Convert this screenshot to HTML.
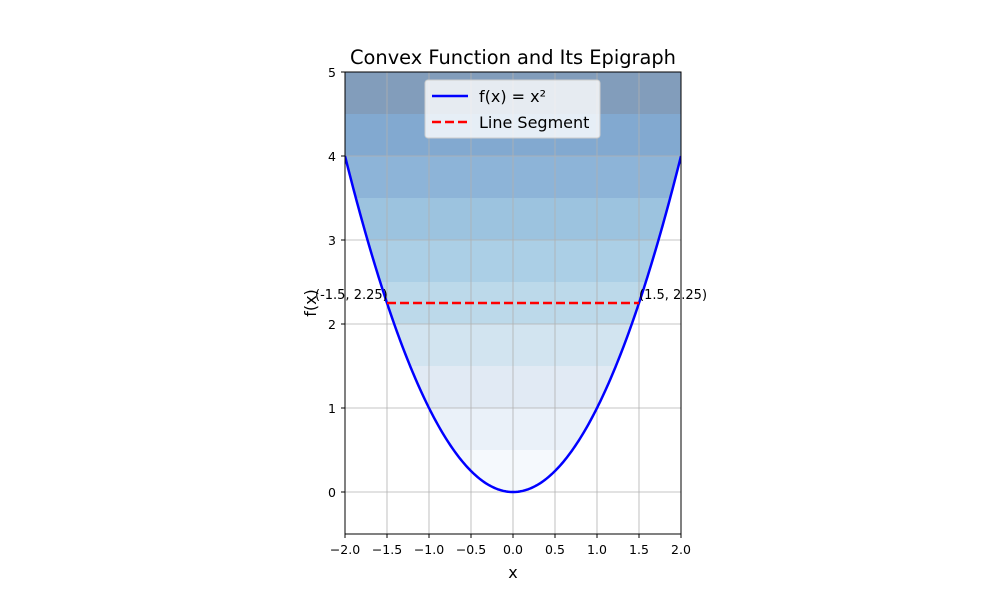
<!DOCTYPE html>
<html><head><meta charset="utf-8"><style>
body{margin:0;background:#fff;}
svg{font-family:"DejaVu Sans","Liberation Sans",sans-serif;}
</style></head><body>
<svg width="1000" height="600" viewBox="0 0 1000 600">
<defs><clipPath id="epi"><path id="epiPath"/></clipPath><clipPath id="plot"><rect x="345" y="72" width="336" height="462"/></clipPath></defs>
<g id="bands" clip-path="url(#epi)"></g>
<g id="grid"></g>
<g id="marks" clip-path="url(#plot)"></g>
<rect x="345" y="72" width="336" height="462" fill="none" stroke="#000" stroke-width="1"/>
<g id="ticks" font-size="12.5" fill="#000"></g>
<text x="513" y="64" text-anchor="middle" font-size="19.4">Convex Function and Its Epigraph</text>
<text x="513" y="578" text-anchor="middle" font-size="16">x</text>
<text transform="translate(316,303) rotate(-90)" text-anchor="middle" font-size="16">f(x)</text>
<g>
<rect x="425" y="80" width="175" height="58" rx="3" fill="#fff" fill-opacity="0.8" stroke="#ccc"/>
<line x1="432" y1="96" x2="468" y2="96" stroke="#0000ff" stroke-width="2.5"/>
<text x="479" y="102" font-size="16">f(x) = x²</text>
<line x1="432" y1="122" x2="468" y2="122" stroke="#ff0000" stroke-width="2.5" stroke-dasharray="9,4"/>
<text x="479" y="128" font-size="16">Line Segment</text>
</g>
</svg>
<script>
const bandLevels=[0,0.5,1,1.5,2,2.5,3,3.5,4,4.5,5];
const bandColors=["#f5f9fd","#eaf1f9","#e1eaf4","#d2e4f0","#bcd9ea","#abcfe6","#9cc3df","#8db4d8","#82a9d0","#829dbb"];
const xTicks=[-2,-1.5,-1,-0.5,0,0.5,1,1.5,2];
const yTicks=[0,1,2,3,4,5];
const segX=[-1.5,1.5];
const segY=[2.25,2.25];
const NS="http://www.w3.org/2000/svg";
const X=v=>345+(v+2)*84, Y=v=>492-v*84;
function mk(t,a,p){const e=document.createElementNS(NS,t);for(const k in a)e.setAttribute(k,a[k]);p.appendChild(e);return e;}
let pts=[];for(let i=0;i<=200;i++){const x=-2+4*i/200;pts.push(X(x).toFixed(2)+","+Y(x*x).toFixed(2));}
document.getElementById('epiPath').setAttribute('d',"M"+X(-2)+","+Y(5)+" L"+pts.join(" L")+" L"+X(2)+","+Y(5)+"Z");
const bands=document.getElementById('bands');
for(let i=0;i<bandColors.length;i++){const r=mk('rect',{x:345,y:Y(bandLevels[i+1]),width:336,height:Y(bandLevels[i])-Y(bandLevels[i+1]),fill:bandColors[i]},bands);

}
const g=document.getElementById('grid'),tk=document.getElementById('ticks');
xTicks.forEach(v=>{const l=mk('line',{x1:X(v),x2:X(v),y1:72,y2:534,stroke:"#b0b0b0","stroke-width":0.8},g);


mk('line',{x1:X(v),x2:X(v),y1:534,y2:538,stroke:"#000"},tk);
const t=mk('text',{x:X(v),y:554,"text-anchor":"middle"},tk);t.textContent=v.toFixed(1).replace('-','−');

});
yTicks.forEach(v=>{const l=mk('line',{x1:345,x2:681,y1:Y(v),y2:Y(v),stroke:"#b0b0b0","stroke-width":0.8},g);


mk('line',{x1:341,x2:345,y1:Y(v),y2:Y(v),stroke:"#000"},tk);
const t=mk('text',{x:336,y:Y(v)+5,"text-anchor":"end"},tk);t.textContent=v;

});
const m=document.getElementById('marks');
const c=mk('polyline',{points:pts.join(" "),fill:"none",stroke:"#0000ff","stroke-width":2.5},m);


const s=mk('line',{x1:X(segX[0]),y1:Y(segY[0]),x2:X(segX[1]),y2:Y(segY[1]),stroke:"#ff0000","stroke-width":2.5,"stroke-dasharray":"9,4"},document.querySelector('svg'));


for(let i=0;i<2;i++){const t=mk('text',{x:X(segX[i])+(i?0:-72),y:Y(segY[i])-4,"font-size":13},document.querySelector('svg'));
t.textContent="("+segX[i]+", "+segY[i]+")";

}
</script>
</body></html>
